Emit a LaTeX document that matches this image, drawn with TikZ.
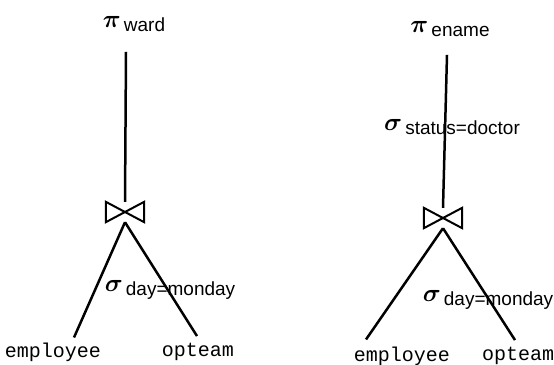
\documentclass[tikz,border=0pt]{standalone}
\usepackage{fontspec}
\setmainfont{Liberation Sans}
\setmonofont{Liberation Mono}
\newcommand{\opsym}[2]{{\fontsize{24}{24}\selectfont\boldmath$#1$}\,\raisebox{-4pt}{#2}}
\begin{document}
\begin{tikzpicture}[x=1pt,y=-1pt,
  lbl/.style={inner sep=0pt, font=\fontsize{19}{19}\selectfont},
  rel/.style={inner sep=0pt, font=\fontsize{20}{20}\selectfont\ttfamily},
  joinbox/.style={minimum width=38pt, minimum height=20pt, inner sep=0pt},
  edge/.style={line width=2.5pt},
  tie/.style={line width=2pt, line join=miter}]
\useasboundingbox (0,0) rectangle (554,364);
% left tree
\node[lbl] (p1) at (134,24) {\opsym{\pi}{ward}};
\node[joinbox] (j1) at (125,212) {};
\draw[tie] (j1.north west) -- (j1.south east) -- (j1.north east) -- (j1.south west) -- cycle;
\node[lbl] (s1) at (170,290) {\opsym{\sigma}{day=monday}};
\node[rel] (e1) at (53,352) {employee};
\node[rel] (o1) at (198,352) {opteam};
\draw[edge] ([xshift=-8pt,yshift=-20pt]p1.south) -- (j1.north);
\draw[edge] (j1.south) -- ([xshift=21pt,yshift=5pt]e1.north);
\draw[edge] (j1.south) -- ([xshift=-1pt,yshift=7pt]o1.north);
% right tree
\node[lbl] (p2) at (450,29) {\opsym{\pi}{ename}};
\node[lbl] (s2) at (452,127) {\opsym{\sigma}{status=doctor}};
\node[joinbox] (j2) at (443,218) {};
\draw[tie] (j2.north west) -- (j2.south east) -- (j2.north east) -- (j2.south west) -- cycle;
\node[lbl] (s3) at (488,300) {\opsym{\sigma}{day=monday}};
\node[rel] (e2) at (402,356) {employee};
\node[rel] (o2) at (518,356) {opteam};
\draw[edge] ([xshift=-3pt,yshift=-18pt]p2.south) -- (j2.north);
\draw[edge] (j2.south) -- ([xshift=-36pt,yshift=7pt]e2.north);
\draw[edge] (j2.south) -- ([xshift=-3pt,yshift=7pt]o2.north);
\end{tikzpicture}
\end{document}
